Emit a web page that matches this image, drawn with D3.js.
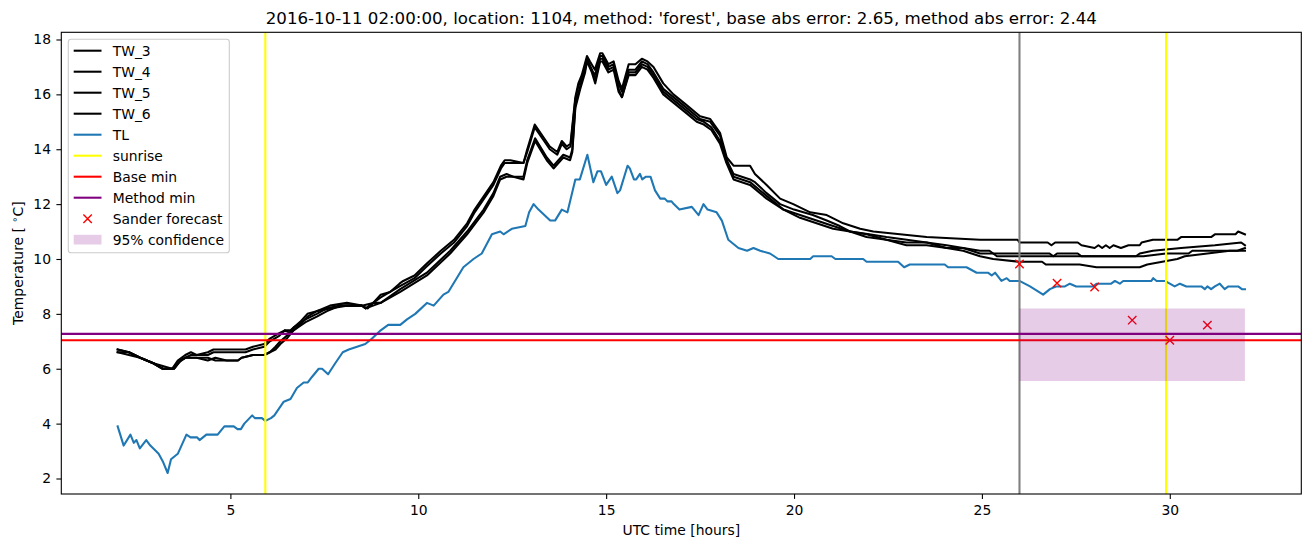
<!DOCTYPE html>
<html><head><meta charset="utf-8">
<script src="https://cdn.jsdelivr.net/npm/d3@7"></script>
<style>body{margin:0;background:#fff;} text{font-family:"DejaVu Sans",sans-serif;fill:#000;}</style>
</head><body><svg id="c" width="1311" height="547"></svg>
<script>
// ---- data (hour, temperature) ----
const TW_3 = [[2.0,6.7],[2.3,6.6],[2.6,6.4],[2.95,6.2],[3.2,6.0],[3.45,6.0],[3.6,6.3],[3.8,6.5],[3.95,6.6],[4.1,6.5],[4.4,6.6],[4.55,6.7],[5.4,6.7],[5.6,6.8],[5.9,6.9],[6.05,7.1],[6.3,7.3],[6.45,7.4],[6.6,7.4],[6.85,7.7],[7.05,8.0],[7.3,8.1],[7.65,8.3],[8.1,8.4],[8.5,8.3],[8.8,8.4],[9.0,8.7],[9.25,8.8],[9.5,9.1],[9.6,9.2],[9.9,9.4],[10.2,9.8],[10.6,10.3],[10.95,10.7],[11.3,11.3],[11.5,11.8],[11.75,12.3],[12.0,12.8],[12.2,13.4],[12.3,13.6],[12.45,13.6],[12.8,13.5],[12.9,14.0],[13.1,14.9],[13.35,14.4],[13.5,14.1],[13.7,13.9],[13.82,14.3],[13.95,14.1],[14.05,14.2],[14.18,15.9],[14.26,16.4],[14.35,16.7],[14.49,17.4],[14.57,17.2],[14.7,16.9],[14.84,17.5],[14.9,17.5],[15.06,17.1],[15.2,17.2],[15.33,16.5],[15.42,16.2],[15.6,17.1],[15.78,17.1],[15.95,17.3],[16.1,17.2],[16.26,17.0],[16.52,16.4],[16.79,16.0],[16.97,15.8],[17.15,15.6],[17.41,15.3],[17.5,15.2],[17.77,15.1],[18.03,14.6],[18.21,13.7],[18.39,13.4],[18.83,13.4],[18.96,13.1],[19.27,12.7],[19.63,12.2],[19.98,12.0],[20.43,11.7],[20.87,11.6],[21.31,11.3],[21.76,11.1],[22.11,11.0],[22.82,10.9],[23.53,10.8],[24.95,10.7],[25.95,10.7],[26.0,10.6],[26.75,10.6],[26.85,10.5],[26.95,10.6],[27.55,10.6],[27.65,10.5],[28.0,10.4],[28.1,10.5],[28.2,10.4],[28.3,10.5],[28.4,10.4],[28.5,10.5],[28.7,10.4],[28.9,10.5],[29.2,10.5],[29.25,10.6],[29.55,10.7],[30.2,10.7],[30.3,10.8],[31.1,10.8],[31.2,10.9],[31.75,10.9],[31.82,11.0],[32.0,10.9]];
const TW_4 = [[2.0,6.6],[2.3,6.6],[2.6,6.4],[2.95,6.2],[3.2,6.1],[3.45,6.0],[3.6,6.2],[3.8,6.4],[3.95,6.5],[4.4,6.5],[4.55,6.6],[5.4,6.6],[5.6,6.7],[5.9,6.8],[6.05,7.0],[6.3,7.2],[6.45,7.4],[6.6,7.3],[6.85,7.6],[7.05,7.9],[7.3,8.1],[7.65,8.2],[8.1,8.3],[8.5,8.3],[8.65,8.2],[8.8,8.4],[9.0,8.6],[9.25,8.8],[9.5,9.0],[9.9,9.3],[10.2,9.7],[10.6,10.2],[10.95,10.6],[11.3,11.2],[11.5,11.7],[11.75,12.2],[12.0,12.7],[12.2,13.3],[12.3,13.5],[12.8,13.5],[12.9,13.9],[13.1,14.8],[13.35,14.3],[13.5,14.0],[13.7,13.8],[13.82,14.2],[13.95,14.0],[14.05,14.1],[14.18,15.8],[14.26,16.3],[14.35,16.6],[14.49,17.3],[14.57,17.0],[14.7,16.7],[14.84,17.4],[14.9,17.4],[15.06,17.0],[15.2,17.1],[15.33,16.4],[15.42,16.1],[15.6,16.9],[15.78,16.9],[15.95,17.2],[16.1,17.1],[16.26,16.8],[16.52,16.2],[16.79,15.9],[16.97,15.7],[17.15,15.5],[17.41,15.2],[17.5,15.1],[17.77,15.0],[18.03,14.5],[18.21,13.6],[18.39,13.1],[18.83,12.9],[18.96,12.8],[19.27,12.4],[19.63,12.0],[20.0,11.8],[20.5,11.6],[20.87,11.4],[21.22,11.2],[21.5,11.0],[22.0,10.9],[22.46,10.8],[23.0,10.7],[23.53,10.6],[24.06,10.5],[24.5,10.4],[24.95,10.3],[25.2,10.3],[25.3,10.2],[26.8,10.2],[26.9,10.1],[27.0,10.2],[27.55,10.2],[27.65,10.1],[29.1,10.1],[29.2,10.2],[29.55,10.3],[30.3,10.4],[31.2,10.5],[31.9,10.6],[32.0,10.5]];
const TW_5 = [[2.0,6.7],[2.3,6.6],[2.6,6.4],[2.95,6.2],[3.2,6.0],[3.5,6.0],[3.67,6.3],[3.8,6.4],[4.1,6.4],[4.4,6.3],[4.6,6.4],[4.9,6.3],[5.2,6.3],[5.3,6.4],[5.6,6.5],[5.9,6.5],[6.05,6.6],[6.2,6.8],[6.33,7.0],[6.5,7.2],[6.68,7.5],[7.0,7.8],[7.3,8.0],[7.57,8.2],[7.93,8.3],[8.5,8.3],[8.6,8.2],[8.8,8.4],[9.0,8.4],[9.52,8.9],[10.23,9.5],[10.85,10.3],[11.3,11.0],[11.74,11.8],[12.0,12.4],[12.18,13.0],[12.35,13.1],[12.53,13.0],[12.8,13.0],[12.9,13.6],[13.11,14.4],[13.42,13.7],[13.6,13.4],[13.86,13.8],[14.04,13.7],[14.1,14.0],[14.18,15.6],[14.31,16.3],[14.44,16.9],[14.49,17.3],[14.62,16.9],[14.71,16.5],[14.84,17.3],[14.9,17.3],[15.06,16.9],[15.2,17.0],[15.33,16.2],[15.42,15.9],[15.6,16.8],[15.78,16.8],[15.95,17.1],[16.1,17.0],[16.26,16.7],[16.52,16.1],[16.79,15.8],[16.97,15.6],[17.15,15.4],[17.41,15.1],[17.6,15.0],[17.8,14.8],[18.03,14.3],[18.2,13.6],[18.39,13.0],[18.83,12.8],[19.27,12.3],[19.72,11.8],[20.16,11.6],[20.6,11.4],[21.04,11.2],[21.49,11.0],[21.93,10.9],[22.46,10.7],[22.99,10.6],[23.53,10.6],[24.06,10.4],[24.5,10.4],[24.95,10.2],[25.3,10.2],[25.4,10.1],[29.3,10.1],[29.9,10.2],[30.5,10.2],[30.6,10.3],[31.8,10.3],[32.0,10.4]];
const TW_6 = [[2.0,6.6],[2.3,6.5],[2.6,6.4],[2.95,6.2],[3.2,6.0],[3.5,6.0],[3.67,6.3],[3.8,6.4],[4.4,6.4],[4.6,6.3],[5.2,6.3],[5.3,6.4],[5.6,6.5],[5.9,6.5],[6.05,6.6],[6.2,6.7],[6.33,6.9],[6.5,7.1],[6.68,7.4],[7.0,7.7],[7.3,7.9],[7.57,8.1],[7.93,8.3],[8.5,8.3],[8.6,8.2],[8.8,8.3],[9.0,8.4],[9.52,8.8],[10.23,9.4],[10.85,10.2],[11.3,10.9],[11.74,11.7],[12.0,12.3],[12.18,12.9],[12.35,13.0],[12.53,13.0],[12.8,12.9],[12.9,13.5],[13.11,14.3],[13.42,13.6],[13.6,13.3],[13.86,13.7],[14.04,13.6],[14.1,13.9],[14.18,15.5],[14.31,16.2],[14.44,16.8],[14.49,17.2],[14.62,16.8],[14.71,16.4],[14.84,17.2],[14.9,17.2],[15.06,16.8],[15.2,16.9],[15.33,16.1],[15.42,15.9],[15.6,16.7],[15.78,16.7],[15.95,17.0],[16.1,16.9],[16.26,16.6],[16.52,16.0],[16.79,15.7],[16.97,15.5],[17.15,15.3],[17.41,15.0],[17.6,14.9],[17.8,14.7],[18.03,14.2],[18.2,13.5],[18.39,12.9],[18.83,12.7],[19.27,12.2],[19.72,11.8],[20.16,11.5],[20.6,11.3],[21.04,11.1],[21.49,11.0],[21.93,10.8],[22.46,10.7],[22.99,10.5],[23.53,10.5],[24.06,10.4],[24.5,10.3],[24.95,10.1],[25.3,10.0],[26.0,9.9],[26.6,9.9],[26.7,9.8],[27.6,9.8],[28.05,9.7],[29.2,9.7],[29.4,9.8],[29.8,9.9],[30.2,10.0],[30.4,10.1],[31.0,10.2],[31.6,10.3],[32.0,10.3]];
const TL = [[2.0,3.9],[2.16,3.2],[2.34,3.6],[2.43,3.3],[2.5,3.4],[2.59,3.1],[2.76,3.4],[2.87,3.2],[3.09,2.9],[3.21,2.6],[3.33,2.2],[3.42,2.7],[3.6,2.9],[3.83,3.6],[3.94,3.5],[4.11,3.5],[4.18,3.4],[4.36,3.6],[4.66,3.6],[4.84,3.9],[5.09,3.9],[5.19,3.8],[5.28,3.8],[5.37,4.0],[5.58,4.3],[5.65,4.2],[5.84,4.2],[5.93,4.1],[6.08,4.2],[6.17,4.3],[6.42,4.8],[6.6,4.9],[6.77,5.3],[6.95,5.5],[7.06,5.5],[7.17,5.7],[7.35,6.0],[7.44,6.0],[7.6,5.8],[7.79,6.2],[7.99,6.6],[8.15,6.7],[8.37,6.8],[8.59,6.9],[8.77,7.1],[9.0,7.4],[9.2,7.6],[9.52,7.6],[9.7,7.8],[9.92,8.0],[10.23,8.4],[10.41,8.3],[10.67,8.7],[10.8,8.8],[11.2,9.7],[11.47,10.0],[11.69,10.2],[11.96,10.9],[12.18,11.0],[12.27,10.9],[12.49,11.1],[12.85,11.2],[12.95,11.7],[13.07,12.0],[13.2,11.8],[13.51,11.4],[13.64,11.4],[13.82,11.8],[13.97,11.7],[14.18,12.9],[14.3,12.9],[14.5,13.8],[14.66,12.8],[14.77,13.2],[14.86,13.2],[15.0,12.7],[15.15,13.0],[15.3,12.4],[15.37,12.5],[15.57,13.4],[15.63,13.3],[15.74,12.9],[15.8,12.9],[15.9,13.1],[15.96,12.9],[16.06,13.0],[16.18,13.0],[16.3,12.5],[16.44,12.2],[16.56,12.2],[16.63,12.1],[16.74,12.1],[16.8,12.0],[16.95,11.8],[17.28,11.9],[17.46,11.6],[17.59,12.0],[17.7,11.8],[17.94,11.7],[18.08,11.4],[18.25,10.7],[18.52,10.4],[18.75,10.3],[18.92,10.4],[19.1,10.3],[19.36,10.2],[19.58,10.0],[20.43,10.0],[20.51,10.1],[21.0,10.1],[21.1,10.0],[21.84,10.0],[21.93,9.9],[22.77,9.9],[22.93,9.7],[23.08,9.8],[24.01,9.8],[24.1,9.7],[24.59,9.7],[24.86,9.5],[25.16,9.5],[25.26,9.4],[25.35,9.5],[25.52,9.2],[25.66,9.3],[25.74,9.2],[26.0,9.2],[26.28,9.0],[26.63,8.7],[26.81,8.9],[26.97,9.0],[27.21,9.0],[27.34,9.1],[27.51,9.0],[27.96,9.0],[28.05,9.1],[28.44,9.1],[28.54,9.2],[28.67,9.1],[28.76,9.2],[29.51,9.2],[29.56,9.3],[29.65,9.2],[29.87,9.2],[30.0,9.1],[30.13,9.0],[30.27,9.1],[30.44,9.0],[30.84,9.0],[30.93,8.9],[31.0,9.0],[31.1,8.9],[31.2,9.0],[31.33,9.1],[31.46,8.9],[31.56,9.0],[31.82,9.0],[31.92,8.9],[32.0,8.9]];
const sunriseHours = [5.93, 29.9];
const forecastStartHour = 26;
const baseMin = 7.04;
const methodMin = 7.27;
const forecastHours = [26, 27, 28, 29, 30, 31];
const forecastValues = [9.82, 9.12, 8.98, 7.77, 7.04, 7.59];
const confidenceHours = [26, 32];
const confidenceLow = 5.55;
const confidenceHigh = 8.2;
const xTicks = [5, 10, 15, 20, 25, 30];
const yTicks = [2, 4, 6, 8, 10, 12, 14, 16, 18];
const titleText = "2016-10-11 02:00:00, location: 1104, method: 'forest', base abs error: 2.65, method abs error: 2.44";

// ---- layout ----
const L = 61.3, R = 1301.3, T = 32.3, B = 494;
const svg = d3.select("#c");
const x = d3.scaleLinear().domain([0.5, 33.5]).range([L, R]);
const y = d3.scaleLinear().domain([1.435, 18.262]).range([B, T]);
const FS = 13.9;

svg.append("defs").append("clipPath").attr("id","clip")
  .append("rect").attr("x",L).attr("y",T).attr("width",R-L).attr("height",B-T);
const g = svg.append("g").attr("clip-path","url(#clip)");

const line = d3.line().x(d => x(d[0])).y(d => y(d[1]));
const tw = [TW_3, TW_4, TW_5, TW_6];
tw.forEach(s => g.append("path").attr("d", line(s)).attr("fill","none")
  .attr("stroke","#000").attr("stroke-width",2.08).attr("stroke-linejoin","round").attr("stroke-linecap","square"));
g.append("path").attr("d", line(TL)).attr("fill","none")
  .attr("stroke","#1f77b4").attr("stroke-width",2.08).attr("stroke-linejoin","round").attr("stroke-linecap","square");

// vertical line at forecast start
g.append("line").attr("x1",x(forecastStartHour)).attr("x2",x(forecastStartHour))
  .attr("y1",T).attr("y2",B).attr("stroke","#808080").attr("stroke-width",2.08);
sunriseHours.forEach(h => g.append("line").attr("x1",x(h)).attr("x2",x(h))
  .attr("y1",T).attr("y2",B).attr("stroke","#ffff00").attr("stroke-width",2.08));
g.append("line").attr("x1",L).attr("x2",R).attr("y1",y(baseMin)).attr("y2",y(baseMin))
  .attr("stroke","#ff0000").attr("stroke-width",2.08);
g.append("line").attr("x1",L).attr("x2",R).attr("y1",y(methodMin)).attr("y2",y(methodMin))
  .attr("stroke","#800080").attr("stroke-width",2.08);

// forecast markers
const mk = 4.2;
forecastHours.forEach((h,i) => {
  const cx = x(h), cy = y(forecastValues[i]);
  g.append("path").attr("d",`M${cx-mk},${cy-mk}L${cx+mk},${cy+mk}M${cx-mk},${cy+mk}L${cx+mk},${cy-mk}`)
    .attr("stroke","#ff0000").attr("stroke-width",1.4).attr("fill","none");
});
// confidence band
const area = d3.area().x(d => x(d)).y0(y(confidenceLow)).y1(y(confidenceHigh));
g.append("path").attr("d", area(confidenceHours)).attr("fill","#800080").attr("fill-opacity",0.2);

// ---- axes ----
const xa = svg.append("g").attr("transform",`translate(0,${B})`)
  .call(d3.axisBottom(x).tickValues(xTicks).tickSize(4.9).tickSizeOuter(0).tickPadding(6).tickFormat(d3.format("d")));
const ya = svg.append("g").attr("transform",`translate(${L},0)`)
  .call(d3.axisLeft(y).tickValues(yTicks).tickSize(4.9).tickSizeOuter(0).tickPadding(5.4).tickFormat(d3.format("d")));
[xa, ya].forEach(a => {
  a.select(".domain").remove();
  a.selectAll(".tick line").attr("stroke","#000").attr("stroke-width",1.1);
  a.selectAll(".tick text").attr("font-size",FS).attr("font-family","DejaVu Sans").attr("fill","#000");
});
svg.append("rect").attr("x",L).attr("y",T).attr("width",R-L).attr("height",B-T)
  .attr("fill","none").attr("stroke","#000").attr("stroke-width",1.1);

// ---- labels ----
svg.append("text").attr("x",(L+R)/2).attr("y",24.3).attr("text-anchor","middle")
  .attr("font-size",16.67).text(titleText);
svg.append("text").attr("x",(L+R)/2).attr("y",534.5).attr("text-anchor","middle")
  .attr("font-size",FS).text("UTC time [hours]");
const yl = svg.append("text").attr("transform",`translate(23,${(T+B)/2}) rotate(-90)`)
  .attr("text-anchor","middle").attr("font-size",FS);
yl.append("tspan").text("Temperature [ ");
yl.append("tspan").attr("font-size",FS*0.7).attr("dy",-5).text("∘");
yl.append("tspan").attr("dy",5).text("C]");

// ---- legend ----
const lg = svg.append("g");
lg.append("rect").attr("x",68.3).attr("y",39.3).attr("width",161).attr("height",213.4)
  .attr("rx",2.8).attr("fill","#fff").attr("fill-opacity",0.8).attr("stroke","#cccccc").attr("stroke-width",1.1);
const legendItems = [
  {label:"TW_3", type:"line", color:"#000"},
  {label:"TW_4", type:"line", color:"#000"},
  {label:"TW_5", type:"line", color:"#000"},
  {label:"TW_6", type:"line", color:"#000"},
  {label:"TL", type:"line", color:"#1f77b4"},
  {label:"sunrise", type:"line", color:"#ffff00"},
  {label:"Base min", type:"line", color:"#ff0000"},
  {label:"Method min", type:"line", color:"#800080"},
  {label:"Sander forecast", type:"marker", color:"#ff0000"},
  {label:"95% confidence", type:"patch", color:"#800080"}
];
legendItems.forEach((it,i) => {
  const cy = 50.7 + i*21.0;
  if (it.type === "line") {
    lg.append("line").attr("x1",73.7).attr("x2",101.5).attr("y1",cy).attr("y2",cy)
      .attr("stroke",it.color).attr("stroke-width",2.08);
  } else if (it.type === "marker") {
    const cx = 87.6;
    lg.append("path").attr("d",`M${cx-mk},${cy-mk}L${cx+mk},${cy+mk}M${cx-mk},${cy+mk}L${cx+mk},${cy-mk}`)
      .attr("stroke",it.color).attr("stroke-width",1.4);
  } else {
    lg.append("rect").attr("x",73.7).attr("y",cy-4.9).attr("width",27.8).attr("height",9.7)
      .attr("fill",it.color).attr("fill-opacity",0.2);
  }
  lg.append("text").attr("x",112.7).attr("y",cy+5).attr("font-size",FS).text(it.label);
});
</script></body></html>
